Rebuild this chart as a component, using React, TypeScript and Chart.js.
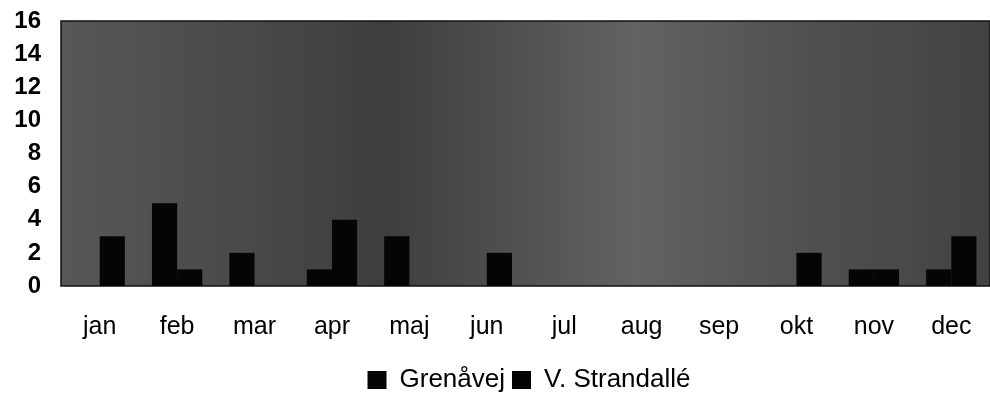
import React, { useEffect, useRef } from "react";
import { Chart, registerables } from "chart.js";

Chart.register(...registerables);

const categories = ["jan", "feb", "mar", "apr", "maj", "jun", "jul", "aug", "sep", "okt", "nov", "dec"];
const grenavej = [0, 5, 2, 1, 3, 0, 0, 0, 0, 0, 1, 1];
const strandalle = [3, 1, 0, 4, 0, 2, 0, 0, 0, 2, 1, 3];
const yTicks = [0, 2, 4, 6, 8, 10, 12, 14, 16];

const FONT = "'Liberation Sans', Arial, sans-serif";

const plotBg = {
  id: "plotBg",
  afterLayout(chart: any) {
    const l = chart.legend;
    if (l) {
      l.left += 34;
      l.right += 34;
    }
  },
  beforeDatasetsDraw(chart: any) {
    const { ctx, chartArea } = chart;
    const { left, top, right, bottom } = chartArea;
    ctx.save();
    const g = ctx.createLinearGradient(left, 0, right, 0);
    g.addColorStop(0, "#575757");
    g.addColorStop(0.35, "#3e3e3e");
    g.addColorStop(0.62, "#626262");
    g.addColorStop(0.8, "#505050");
    g.addColorStop(1, "#424242");
    ctx.fillStyle = g;
    ctx.fillRect(left, top, right - left, bottom - top);
    ctx.strokeStyle = "#111";
    ctx.lineWidth = 1.5;
    ctx.strokeRect(left, top, right - left, bottom - top);
    ctx.restore();
  },
};

export default function App() {
  const ref = useRef<HTMLCanvasElement>(null);
  useEffect(() => {
    document.body.style.margin = "0";
    const chart = new Chart(ref.current!, {
      type: "bar",
      data: {
        labels: categories,
        datasets: [
          { label: "Grenåvej", data: grenavej, backgroundColor: "#050505", borderWidth: 0 },
          { label: "V. Strandallé", data: strandalle, backgroundColor: "#050505", borderWidth: 0 },
        ],
      },
      options: {
        animation: false,
        responsive: false,
        maintainAspectRatio: false,
        devicePixelRatio: 1,
        layout: { padding: { top: 21, right: 0, left: 0, bottom: 0 } },
        datasets: { bar: { categoryPercentage: 0.65, barPercentage: 1 } },
        plugins: {
          tooltip: { enabled: false },
          legend: {
            position: "bottom",
            labels: {
              color: "#000",
              font: { family: FONT, size: 26 },
              boxWidth: 19,
              boxHeight: 18,
              padding: 7,
            },
          },
        },
        scales: {
          x: {
            grid: { display: false, drawTicks: false },
            border: { display: false },
            ticks: {
              color: "#000",
              padding: 26,
              font: { family: FONT, size: 25 },
              maxRotation: 0,
              autoSkip: false,
            },
            afterFit: (s: any) => {
              s.height = 74;
              s.paddingLeft = 0;
              s.paddingRight = 0;
            },
          },
          y: {
            min: 0,
            max: 16,
            afterBuildTicks: (s: any) => { s.ticks = yTicks.map((v) => ({ value: v })); },
            grid: { display: false, drawTicks: false },
            border: { display: false },
            ticks: {
              color: "#000",
              padding: 20,
              autoSkip: false,
              font: { family: FONT, size: 24, weight: "bold" },
            },
            afterFit: (s: any) => {
              s.width = 61;
              s.paddingTop = 0;
              s.paddingBottom = 0;
            },
          },
        },
      },
      plugins: [plotBg],
    });
    return () => chart.destroy();
  }, []);
  return (
    <div style={{ width: 990, height: 403 }}>
      <canvas ref={ref} width={990} height={403} style={{ display: "block" }} />
    </div>
  );
}
